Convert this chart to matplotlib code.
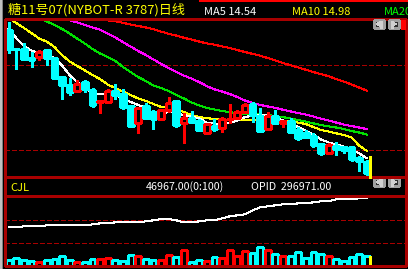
import matplotlib
matplotlib.use('Agg')
import matplotlib.pyplot as plt
from matplotlib.patches import Rectangle, Polygon

plt.rcParams['lines.antialiased'] = False
plt.rcParams['patch.antialiased'] = False

# daily bars, sugar #11 07
opens = [22.27, 21.14, 21.12, 20.61, 20.62, 21.09, 20.57, 19.43, 18.95, 18.61,
         19.15, 18.68, 17.91, 17.95, 18.61, 18.44, 17.69, 16.64, 17.69, 17.34,
         16.90, 17.42, 17.99, 16.69, 16.96, 16.78, 16.04, 16.51, 16.39, 16.87,
         16.98, 17.34, 17.81, 17.11, 16.28, 17.11, 16.64, 16.76, 16.24, 16.04,
         15.86, 15.39, 14.87, 15.28, 15.19, 15.19, 14.57, 14.33]
highs = [22.72, 21.15, 21.46, 20.96, 21.06, 21.12, 20.66, 19.46, 19.36, 19.25,
         19.25, 18.75, 18.05, 18.69, 18.99, 18.69, 17.75, 17.64, 17.85, 17.45,
         17.47, 18.21, 18.05, 17.25, 17.39, 16.89, 16.68, 16.89, 17.04, 17.81,
         17.45, 17.85, 17.95, 17.54, 17.32, 17.46, 16.79, 16.95, 16.40, 16.27,
         16.04, 15.40, 15.44, 15.54, 15.30, 15.23, 14.70, 14.43]
lows = [20.86, 19.90, 20.49, 20.02, 20.46, 20.16, 19.34, 18.09, 18.37, 18.56,
        18.55, 17.61, 17.25, 17.90, 18.09, 17.51, 16.40, 16.08, 16.93, 16.32,
        16.88, 17.31, 16.44, 15.48, 16.64, 16.17, 16.02, 16.17, 16.14, 16.64,
        16.93, 17.32, 16.74, 16.18, 16.26, 16.62, 16.44, 16.14, 15.64, 15.74,
        15.24, 14.74, 14.86, 14.74, 14.87, 14.39, 13.79, 13.53]
closes = [21.10, 21.10, 20.54, 20.43, 20.94, 20.56, 19.39, 18.95, 18.55, 19.01,
          18.70, 17.75, 17.99, 18.59, 18.35, 17.64, 16.50, 17.55, 16.95, 16.90,
          17.45, 17.85, 16.55, 16.95, 16.74, 16.26, 16.61, 16.30, 16.89, 16.92,
          17.31, 17.75, 17.14, 16.20, 17.07, 16.64, 16.78, 16.15, 15.79, 15.84,
          15.34, 14.86, 15.31, 15.10, 15.02, 14.51, 14.39, 13.67]

ma5 = [22.33, 21.78, 21.30, 21.03, 20.85, 20.76, 20.58, 20.13, 19.55, 19.13,
       18.80, 18.47, 18.41, 18.41, 18.32, 18.17, 17.93, 17.75, 17.57, 17.23,
       17.11, 17.36, 17.23, 17.14, 17.05, 16.93, 16.69, 16.64, 16.60, 16.66,
       16.81, 17.02, 17.11, 17.13, 17.14, 17.02, 16.81, 16.64, 16.42, 16.21,
       15.97, 15.67, 15.49, 15.37, 15.24, 15.04, 14.83, 14.54]
ma10 = [22.99, 22.69, 22.39, 22.08, 21.75, 21.57, 21.24, 20.76, 20.37, 20.10,
        19.83, 19.55, 19.31, 18.98, 18.77, 18.56, 18.35, 18.14, 17.99, 17.81,
        17.63, 17.60, 17.48, 17.32, 17.14, 17.02, 16.96, 16.90, 16.85, 16.84,
        16.83, 16.85, 16.84, 16.83, 16.84, 16.84, 16.78, 16.73, 16.69, 16.60,
        16.42, 16.24, 16.15, 16.04, 15.94, 15.79, 15.30, 14.98]
# longer averages, only the visible part (they end on the last bar)
ma20 = [22.99, 22.78, 22.57, 22.33, 22.05, 21.75, 21.45, 21.12, 20.85, 20.64,
        20.40, 20.04, 19.73, 19.43, 19.19, 18.92, 18.77, 18.59, 18.35, 18.14,
        17.90, 17.72, 17.57, 17.48, 17.39, 17.32, 17.26, 17.20, 17.19, 17.17,
        17.14, 17.08, 17.02, 16.93, 16.84, 16.75, 16.64, 16.54, 16.46, 16.39,
        16.30, 16.18, 16.09, 15.97]
ma40 = [22.85, 22.72, 22.57, 22.42, 22.28, 22.04, 21.81, 21.54, 21.27, 21.00,
        20.76, 20.49, 20.22, 19.98, 19.73, 19.52, 19.34, 19.13, 18.89, 18.69,
        18.56, 18.41, 18.23, 18.02, 17.87, 17.75, 17.66, 17.58, 17.46, 17.36,
        17.26, 17.17, 17.05, 16.92, 16.81, 16.69, 16.57, 16.48, 16.39, 16.30]
ma60 = [22.90, 22.85, 22.79, 22.70, 22.60, 22.51, 22.42, 22.31, 22.17, 22.04,
        21.93, 21.80, 21.69, 21.57, 21.46, 21.38, 21.28, 21.18, 21.06, 20.94,
        20.83, 20.72, 20.58, 20.43, 20.28, 20.14, 20.01, 19.87, 19.73, 19.61,
        19.48, 19.31, 19.16, 18.98, 18.80, 18.61]

volume = [29200, 37300, 27500, 22700, 17800, 27600, 32400, 46900, 27500, 17900,
          17800, 32300, 32500, 37200, 27600, 22600, 51900, 46900, 32400, 27500,
          27600, 51800, 42100, 76100, 17800, 27500, 22700, 42200, 37300, 76200,
          46900, 71300, 61600, 90700, 76100, 56700, 47000, 46900, 66400, 37200,
          66500, 56600, 46900, 32400, 22700, 42100, 56700, 46967]
open_int = [252950, 253100, 254470, 254520, 254600, 255990, 256050, 255990, 256100, 255950,
            256020, 257500, 259020, 259100, 260540, 260600, 260520, 260580, 262060, 263580,
            265600, 265700, 263580, 260540, 260600, 262060, 263580, 263650, 266610, 269650,
            271170, 272680, 278760, 283310, 284830, 286350, 287860, 287950, 289380, 289450,
            290900, 292420, 292500, 295450, 295500, 296500, 296800, 296971]

price_grid = [15.04, 20.13]

RED = '#ff0000'
CYAN = '#00ffff'
FRAME = '#a80000'
LW = 0.75
W = 0.76

n = len(closes)
fig = plt.figure(figsize=(4.08, 2.69), dpi=100, facecolor='black')
W_PX, H_PX = 408.0, 269.0


def box(x0, y0, x1, y1):
    return [x0 / W_PX, 1 - y1 / H_PX, (x1 - x0) / W_PX, (y1 - y0) / H_PX]


xlim = (-0.55, 52.14)

ax = fig.add_axes(box(4.5, 19, 406, 177))
ax.set_facecolor('black')
ax.set_xlim(*xlim)
ax.set_ylim(13.41, 22.93)
ax.set_xticks([])
ax.set_yticks([])
for s in ax.spines.values():
    s.set_visible(False)

for p in price_grid:
    ax.axhline(p, color=FRAME, lw=LW, ls=(0, (4, 2.6)), zorder=1)

def ma_x(vals):
    return list(range(n - len(vals), n))

ax.plot(ma_x(ma60), ma60, color=RED, lw=LW, zorder=2)
ax.plot(ma_x(ma40), ma40, color='#ff00ff', lw=LW, zorder=2)
ax.plot(ma_x(ma20), ma20, color='#00e000', lw=LW, zorder=2)
ax.plot(range(n), ma10, color='#ffff00', lw=LW, zorder=2)
ax.plot(range(n), ma5, color='white', lw=LW, zorder=2)

for i in range(n):
    o, h, l, c = opens[i], highs[i], lows[i], closes[i]
    up = c > o
    col = RED if up else CYAN
    top, bot = max(o, c), min(o, c)
    ax.vlines(i, top, h, color=col, lw=LW, zorder=3)
    ax.vlines(i, l, bot, color=col, lw=LW, zorder=3)
    if top - bot < 0.07:
        ax.hlines((top + bot) / 2, i - W / 2, i + W / 2, color=col, lw=LW, zorder=4)
    else:
        ax.add_patch(Rectangle((i - W / 2, bot), W, top - bot,
                               facecolor='black' if up else col,
                               edgecolor=col, lw=LW, zorder=4))

# yellow cursor at the last bar
ax.vlines(n - 1 + W / 2, 13.41, 14.67, color='#ffff00', lw=LW, zorder=5)

# volume / open interest panel
axv = fig.add_axes(box(4.5, 196, 406, 266))
axv.set_facecolor('black')
axv.set_xlim(*xlim)
axv.set_ylim(0, 340200)
axv.set_xticks([])
axv.set_yticks([])
for s in axv.spines.values():
    s.set_visible(False)
for v in [111800, 223600]:
    axv.axhline(v, color=FRAME, lw=LW, ls=(0, (4, 2.6)), zorder=1)
vcols = [RED if closes[i] > opens[i] else CYAN for i in range(n)]
axv.bar(range(n), volume, width=W, fill=False, edgecolor=vcols, lw=LW, zorder=3)
axv.vlines(n - 1 + W / 2, 0, volume[-1], color='#ffff00', lw=LW, zorder=5)

axo = axv.twinx()
axo.set_xlim(*xlim)
axo.set_ylim(194253, 300513)
axo.set_yticks([])
for s in axo.spines.values():
    s.set_visible(False)
axo.plot(range(n), open_int, color='white', lw=LW, zorder=3)

# frame, headers, texts drawn in pixel coordinates
top = fig.add_axes([0, 0, 1, 1])
top.set_xlim(0, W_PX)
top.set_ylim(H_PX, 0)
top.axis('off')
top.patch.set_alpha(0)

top.add_patch(Rectangle((0, 0), 1.6, H_PX, facecolor='#c0c0c0', edgecolor='none'))
top.add_patch(Rectangle((1.6, 0), 1.0, H_PX, facecolor='#808080', edgecolor='none'))
top.add_patch(Rectangle((4.5, 19), 401.5, 247, fill=False, edgecolor=FRAME, lw=1.0))
top.plot([4.5, 406], [177, 177], color=FRAME, lw=1.0)
top.plot([4.5, 406], [196, 196], color=FRAME, lw=1.0)
top.plot([200, 408], [0.6, 0.6], color=RED, lw=1.2)
top.plot([370, 370], [175, 177], color='#ffff00', lw=LW)

for yb in (20, 178):
    for xb, left in ((374, True), (389, False)):
        top.add_patch(Rectangle((xb, yb), 10, 8, facecolor='#303030',
                                edgecolor='#a0a0a0', lw=0.8))
        if left:
            tri = [(xb + 2.5, yb + 4), (xb + 6, yb + 1.5), (xb + 6, yb + 6.5)]
            top.plot([xb + 7, xb + 7], [yb + 1.5, yb + 6.5], color='#d0d0d0', lw=1)
        else:
            tri = [(xb + 7.5, yb + 4), (xb + 4, yb + 1.5), (xb + 4, yb + 6.5)]
            top.plot([xb + 3, xb + 3], [yb + 1.5, yb + 6.5], color='#d0d0d0', lw=1)
        top.add_patch(Polygon(tri, facecolor='#d0d0d0', edgecolor='none'))
top.add_patch(Rectangle((401, 19.5), 5, 10.5, facecolor=RED, edgecolor='none'))

narrow = ['Liberation Sans Narrow', 'Noto Sans CJK SC', 'DejaVu Sans']
top.text(8, 13.2, '糖11号07(NYBOT-R 3787)日线', color='#ffff00', fontsize=9.4,
         family=narrow, va='baseline', ha='left')
top.text(204, 15, f'MA5 {ma5[-1]:.2f}', color='white', fontsize=8,
         family=narrow, va='baseline')
top.text(292, 15, f'MA10 {ma10[-1]:.2f}', color='#ffff00', fontsize=8,
         family=narrow, va='baseline')
top.text(384, 15, f'MA20', color='#00ff00', fontsize=8,
         family=narrow, va='baseline')
top.text(10, 191, 'CJL', color='#ffff00', fontsize=8, family=narrow, va='baseline')
top.text(146, 190, f'{volume[-1]:.2f}(0:100)', color='white', fontsize=7.7,
         family=narrow, va='baseline')
top.text(251, 190, f'OPID  {open_int[-1]:.2f}', color='white', fontsize=7.7,
         family=narrow, va='baseline')

fig.savefig('out.png', dpi=100, facecolor='black')
